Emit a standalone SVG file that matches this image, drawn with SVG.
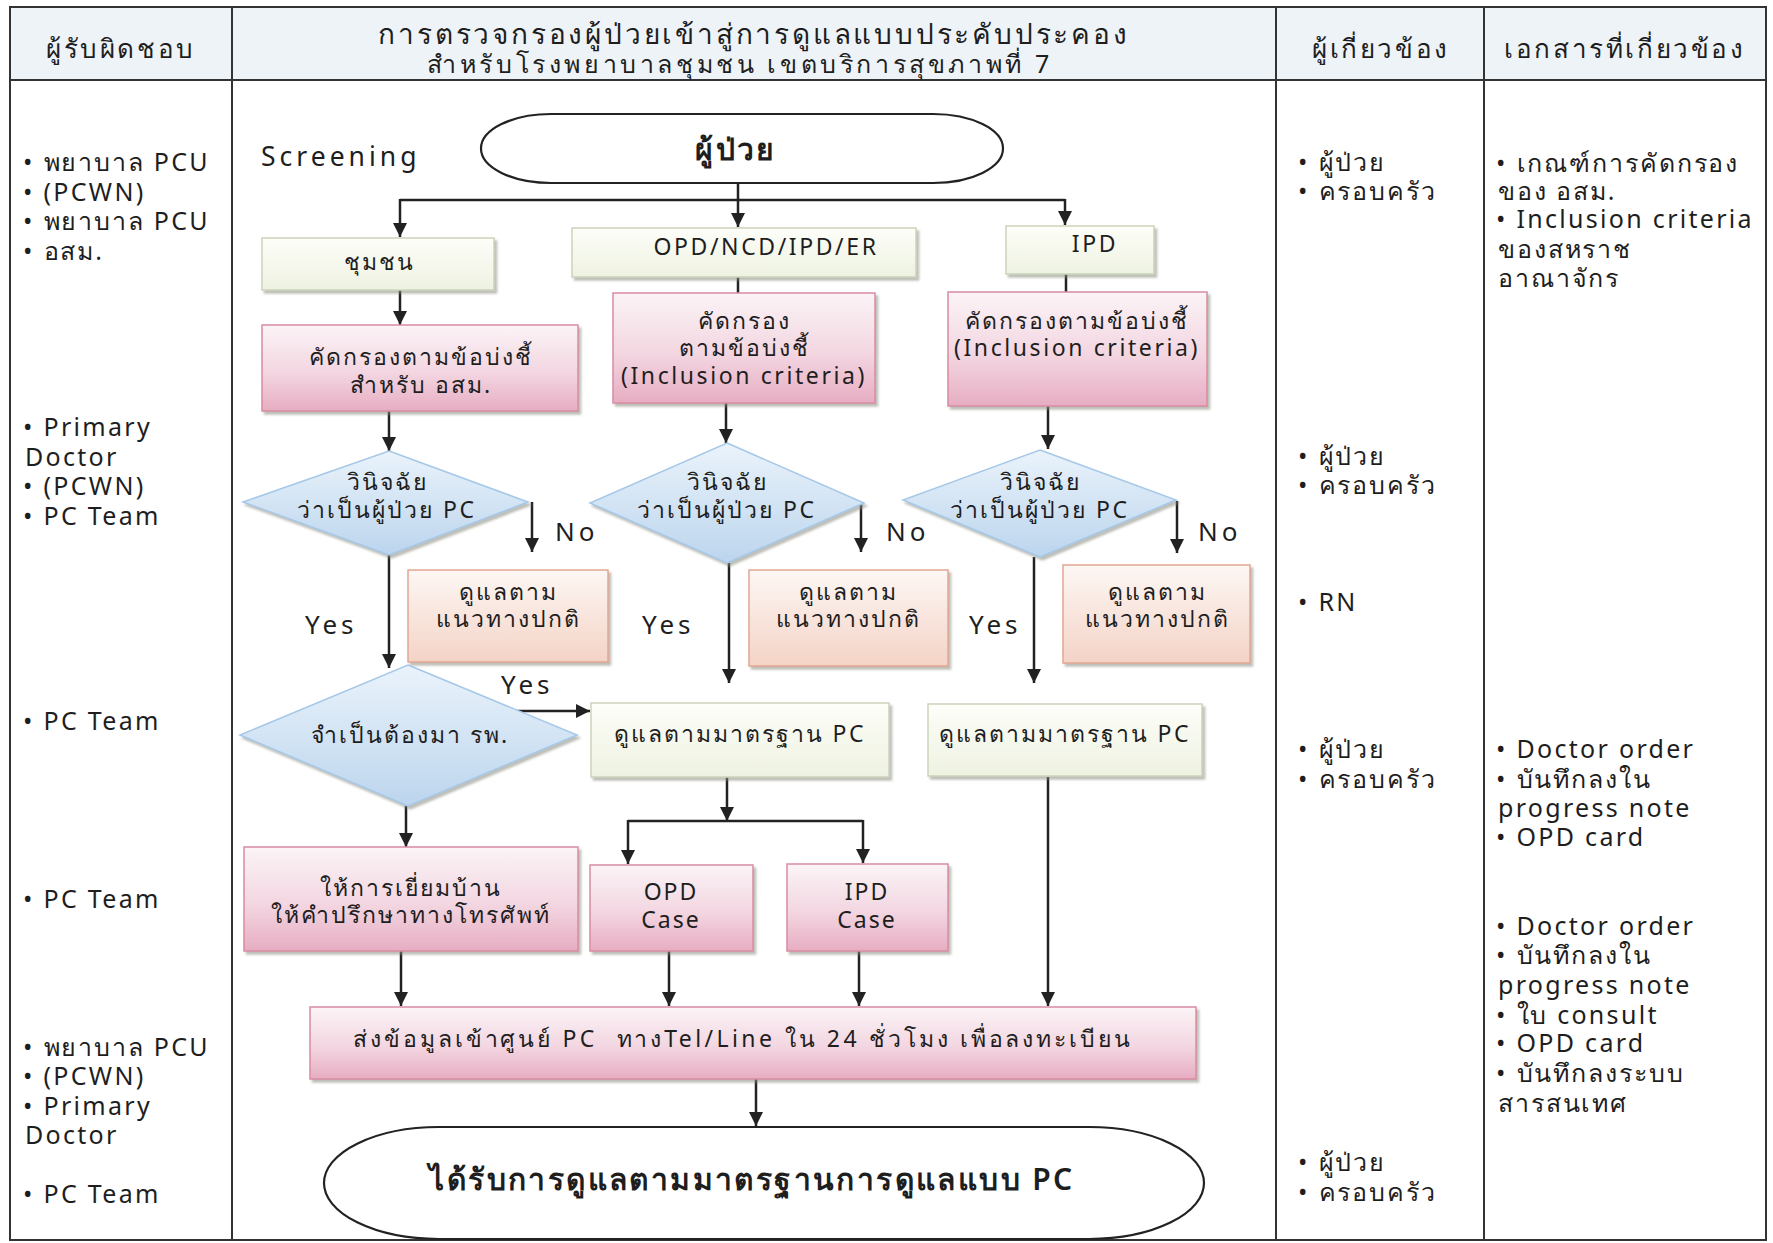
<svg xmlns="http://www.w3.org/2000/svg" width="1773" height="1243" viewBox="0 0 1773 1243">
<defs>
<style>
.t{font-family:"Noto Sans","DejaVu Sans",sans-serif;fill:#1e1e1e}
.s{font-size:25px;letter-spacing:1.9px}
.f{font-size:23px;letter-spacing:2px}
.L{letter-spacing:2.3px}
.fL{letter-spacing:2.6px}
.yn{font-size:26px;letter-spacing:4px}
.hd{font-size:26px;letter-spacing:2.6px}
.c{text-anchor:middle}
.big{font-size:30px;letter-spacing:2.4px;font-weight:600}
.line{stroke:#222;stroke-width:2.5;fill:none}
.arr{stroke:#222;stroke-width:2.5;fill:none;marker-end:url(#ah)}
.grid{stroke:#333;stroke-width:2;fill:none}
.gbox{fill:url(#gG);stroke:#cbd3bb;stroke-width:1.5;filter:url(#sh)}
.pbox{fill:url(#gP);stroke:#d88ca3;stroke-width:1.5;filter:url(#sh)}
.obox{fill:url(#gO);stroke:#e2a793;stroke-width:1.5;filter:url(#sh)}
.dia{fill:url(#gB);stroke:#a6c8e8;stroke-width:1.5;filter:url(#sh)}
.term{fill:#fff;stroke:#222;stroke-width:2.2}
</style>
<marker id="ah" markerUnits="userSpaceOnUse" markerWidth="16" markerHeight="16" refX="14" refY="7" orient="auto">
<path d="M0,0 L14,7 L0,14 z" fill="#222"/>
</marker>
<linearGradient id="gG" x1="0" y1="0" x2="0" y2="1"><stop offset="0" stop-color="#fdfef9"/><stop offset="1" stop-color="#eef2e1"/></linearGradient>
<linearGradient id="gP" x1="0" y1="0" x2="0" y2="1"><stop offset="0" stop-color="#fbf4f7"/><stop offset="0.55" stop-color="#f3d6e1"/><stop offset="1" stop-color="#e7adc2"/></linearGradient>
<linearGradient id="gO" x1="0" y1="0" x2="0" y2="1"><stop offset="0" stop-color="#fdf7f4"/><stop offset="1" stop-color="#f4d3c6"/></linearGradient>
<linearGradient id="gB" x1="0" y1="0" x2="0" y2="1"><stop offset="0" stop-color="#eaf3fb"/><stop offset="1" stop-color="#bcd5ed"/></linearGradient>
<filter id="sh" x="-5%" y="-5%" width="115%" height="120%"><feDropShadow dx="2.5" dy="3" stdDeviation="1" flood-color="#8a8a80" flood-opacity="0.55"/></filter>
</defs>
<rect width="1773" height="1243" fill="#fff"/>

<g id="table">
<rect x="10" y="7" width="1756" height="73" fill="#eef3f8"/>
<rect class="grid" x="10" y="7" width="1756" height="1233"/>
<line class="grid" x1="10" y1="80" x2="1766" y2="80"/>
<line class="grid" x1="232" y1="7" x2="232" y2="1240"/>
<line class="grid" x1="1276" y1="7" x2="1276" y2="1240"/>
<line class="grid" x1="1484" y1="7" x2="1484" y2="1240"/>
<text class="t c hd" x="121" y="58">ผู้รับผิดชอบ</text>
<text class="t c" x="754" y="44" style="font-size:28px;letter-spacing:2.8px">การตรวจกรองผู้ป่วยเข้าสู่การดูแลแบบประคับประคอง</text>
<text class="t c" x="740" y="73" style="font-size:25px;letter-spacing:3.6px">สำหรับโรงพยาบาลชุมชน เขตบริการสุขภาพที่ 7</text>
<text class="t c hd" x="1381" y="58">ผู้เกี่ยวข้อง</text>
<text class="t c hd" x="1625" y="58">เอกสารที่เกี่ยวข้อง</text>
</g>

<g id="col-responsible">
<text class="t s" x="23" y="171"><tspan class="L">• </tspan>พยาบาล<tspan class="L"> PCU</tspan></text>
<text class="t s L" x="23" y="201">• (PCWN)</text>
<text class="t s" x="23" y="230"><tspan class="L">• </tspan>พยาบาล<tspan class="L"> PCU</tspan></text>
<text class="t s" x="23" y="260"><tspan class="L">• </tspan>อสม.</text>
<text class="t s L" x="23" y="436">• Primary</text>
<text class="t s L" x="25" y="466">Doctor</text>
<text class="t s L" x="23" y="495">• (PCWN)</text>
<text class="t s L" x="23" y="525">• PC Team</text>
<text class="t s L" x="23" y="730">• PC Team</text>
<text class="t s L" x="23" y="908">• PC Team</text>
<text class="t s" x="23" y="1056"><tspan class="L">• </tspan>พยาบาล<tspan class="L"> PCU</tspan></text>
<text class="t s L" x="23" y="1085">• (PCWN)</text>
<text class="t s L" x="23" y="1115">• Primary</text>
<text class="t s L" x="25" y="1144">Doctor</text>
<text class="t s L" x="23" y="1203">• PC Team</text>
</g>

<g id="col-involved">
<text class="t s" x="1298" y="171"><tspan class="L">• </tspan>ผู้ป่วย</text>
<text class="t s" x="1298" y="200"><tspan class="L">• </tspan>ครอบครัว</text>
<text class="t s" x="1298" y="465"><tspan class="L">• </tspan>ผู้ป่วย</text>
<text class="t s" x="1298" y="494"><tspan class="L">• </tspan>ครอบครัว</text>
<text class="t s L" x="1298" y="611">• RN</text>
<text class="t s" x="1298" y="758"><tspan class="L">• </tspan>ผู้ป่วย</text>
<text class="t s" x="1298" y="788"><tspan class="L">• </tspan>ครอบครัว</text>
<text class="t s" x="1298" y="1171"><tspan class="L">• </tspan>ผู้ป่วย</text>
<text class="t s" x="1298" y="1201"><tspan class="L">• </tspan>ครอบครัว</text>
</g>

<g id="col-documents">
<text class="t s" x="1496" y="172"><tspan class="L">• </tspan>เกณฑ์การคัดกรอง</text>
<text class="t s" x="1498" y="200">ของ อสม.</text>
<text class="t s L" x="1496" y="228">• Inclusion criteria</text>
<text class="t s" x="1498" y="258">ของสหราช</text>
<text class="t s" x="1498" y="287">อาณาจักร</text>
<text class="t s L" x="1496" y="758">• Doctor order</text>
<text class="t s" x="1496" y="788"><tspan class="L">• </tspan>บันทึกลงใน</text>
<text class="t s L" x="1498" y="817">progress note</text>
<text class="t s L" x="1496" y="846">• OPD card</text>
<text class="t s L" x="1496" y="935">• Doctor order</text>
<text class="t s" x="1496" y="964"><tspan class="L">• </tspan>บันทึกลงใน</text>
<text class="t s L" x="1498" y="994">progress note</text>
<text class="t s" x="1496" y="1024"><tspan class="L">• </tspan>ใบ<tspan class="L"> consult</tspan></text>
<text class="t s L" x="1496" y="1052">• OPD card</text>
<text class="t s" x="1496" y="1082"><tspan class="L">• </tspan>บันทึกลงระบบ</text>
<text class="t s" x="1498" y="1112">สารสนเทศ</text>
</g>

<g id="connectors">
<line class="arr" x1="738" y1="183" x2="738" y2="227"/>
<polyline class="line" points="400,200 1065,200"/>
<line class="arr" x1="400" y1="199" x2="400" y2="237"/>
<line class="arr" x1="1065" y1="199" x2="1065" y2="225"/>
<line class="arr" x1="400" y1="290" x2="400" y2="325"/>
<line class="line" x1="738" y1="277" x2="738" y2="293"/>
<line class="line" x1="1066" y1="274" x2="1066" y2="292"/>
<line class="arr" x1="389" y1="411" x2="389" y2="451"/>
<line class="arr" x1="726" y1="403" x2="726" y2="443"/>
<line class="arr" x1="1048" y1="406" x2="1048" y2="449"/>
<line class="arr" x1="532" y1="502" x2="532" y2="552"/>
<line class="arr" x1="861" y1="504" x2="861" y2="552"/>
<line class="arr" x1="1177" y1="501" x2="1177" y2="553"/>
<line class="arr" x1="389" y1="555" x2="389" y2="668"/>
<line class="arr" x1="729" y1="563" x2="729" y2="683"/>
<line class="arr" x1="1034" y1="557" x2="1034" y2="683"/>
<line class="arr" x1="517" y1="711" x2="590" y2="711"/>
<line class="arr" x1="406" y1="806" x2="406" y2="847"/>
<line class="arr" x1="727" y1="777" x2="727" y2="821"/>
<polyline class="line" points="628,821 863,821"/>
<line class="arr" x1="628" y1="820" x2="628" y2="864"/>
<line class="arr" x1="863" y1="820" x2="863" y2="863"/>
<line class="arr" x1="401" y1="951" x2="401" y2="1006"/>
<line class="arr" x1="669" y1="951" x2="669" y2="1006"/>
<line class="arr" x1="859" y1="951" x2="859" y2="1006"/>
<line class="arr" x1="1048" y1="777" x2="1048" y2="1006"/>
<line class="arr" x1="756" y1="1079" x2="756" y2="1126"/>
<text class="t yn" x="555" y="541">No</text>
<text class="t yn" x="886" y="541">No</text>
<text class="t yn" x="1198" y="541">No</text>
<text class="t yn" x="305" y="634">Yes</text>
<text class="t yn" x="642" y="634">Yes</text>
<text class="t yn" x="969" y="634">Yes</text>
<text class="t yn" x="501" y="694">Yes</text>
</g>

<g id="label-screening"><text class="t" x="261" y="166" style="font-size:26.5px;letter-spacing:4px">Screening</text></g>

<g id="n-start">
<rect class="term" x="481" y="114" width="522" height="69" rx="70" ry="34.5"/>
<text class="t c big" x="736" y="160">ผู้ป่วย</text>
</g>

<g id="n-community">
<rect class="gbox" x="262" y="238" width="232" height="52"/>
<text class="t c f" x="379" y="270">ชุมชน</text>
</g>
<g id="n-opd">
<rect class="gbox" x="572" y="228" width="344" height="49"/>
<text class="t c f fL" x="766" y="255">OPD/NCD/IPD/ER</text>
</g>
<g id="n-ipd">
<rect class="gbox" x="1006" y="226" width="148" height="48"/>
<text class="t c f fL" x="1095" y="252">IPD</text>
</g>

<g id="n-screen1">
<rect class="pbox" x="262" y="325" width="316" height="86"/>
<text class="t c f" x="421" y="365">คัดกรองตามข้อบ่งชี้</text>
<text class="t c f" x="421" y="393">สำหรับ อสม.</text>
</g>
<g id="n-screen2">
<rect class="pbox" x="613" y="293" width="262" height="110"/>
<text class="t c f" x="744" y="329">คัดกรอง</text>
<text class="t c f" x="744" y="356">ตามข้อบ่งชี้</text>
<text class="t c f fL" x="744" y="384">(Inclusion criteria)</text>
</g>
<g id="n-screen3">
<rect class="pbox" x="948" y="292" width="259" height="114"/>
<text class="t c f" x="1077" y="329">คัดกรองตามข้อบ่งชี้</text>
<text class="t c f fL" x="1077" y="356">(Inclusion criteria)</text>
</g>

<g id="n-diag1">
<polygon class="dia" points="389,451 528,502 389,555 243,502"/>
<text class="t c f" x="387" y="490">วินิจฉัย</text>
<text class="t c f" x="387" y="518">ว่าเป็นผู้ป่วย<tspan class="fL"> PC</tspan></text>
</g>
<g id="n-diag2">
<polygon class="dia" points="727,443 864,503 727,563 590,503"/>
<text class="t c f" x="727" y="490">วินิจฉัย</text>
<text class="t c f" x="727" y="518">ว่าเป็นผู้ป่วย<tspan class="fL"> PC</tspan></text>
</g>
<g id="n-diag3">
<polygon class="dia" points="1040,450 1176,500 1040,557 903,500"/>
<text class="t c f" x="1040" y="490">วินิจฉัย</text>
<text class="t c f" x="1040" y="518">ว่าเป็นผู้ป่วย<tspan class="fL"> PC</tspan></text>
</g>

<g id="n-normal1">
<rect class="obox" x="408" y="570" width="200" height="92"/>
<text class="t c f" x="508" y="600">ดูแลตาม</text>
<text class="t c f" x="508" y="627">แนวทางปกติ</text>
</g>
<g id="n-normal2">
<rect class="obox" x="749" y="570" width="199" height="96"/>
<text class="t c f" x="848" y="600">ดูแลตาม</text>
<text class="t c f" x="848" y="627">แนวทางปกติ</text>
</g>
<g id="n-normal3">
<rect class="obox" x="1063" y="565" width="187" height="98"/>
<text class="t c f" x="1157" y="600">ดูแลตาม</text>
<text class="t c f" x="1157" y="627">แนวทางปกติ</text>
</g>

<g id="n-need-hosp">
<polygon class="dia" points="408,665 577,735 408,806 240,735"/>
<text class="t c f" x="410" y="743">จำเป็นต้องมา รพ.</text>
</g>

<g id="n-std1">
<rect class="gbox" x="591" y="703" width="298" height="74"/>
<text class="t c f" x="740" y="742">ดูแลตามมาตรฐาน<tspan class="fL"> PC</tspan></text>
</g>
<g id="n-std2">
<rect class="gbox" x="928" y="704" width="274" height="72"/>
<text class="t c f" x="1065" y="742">ดูแลตามมาตรฐาน<tspan class="fL"> PC</tspan></text>
</g>

<g id="n-homevisit">
<rect class="pbox" x="244" y="847" width="334" height="104"/>
<text class="t c f" x="411" y="896">ให้การเยี่ยมบ้าน</text>
<text class="t c f" x="411" y="923">ให้คำปรึกษาทางโทรศัพท์</text>
</g>
<g id="n-opdcase">
<rect class="pbox" x="590" y="865" width="163" height="86"/>
<text class="t c f" x="671" y="900">OPD</text>
<text class="t c f" x="671" y="928">Case</text>
</g>
<g id="n-ipdcase">
<rect class="pbox" x="787" y="864" width="161" height="87"/>
<text class="t c f" x="867" y="900">IPD</text>
<text class="t c f" x="867" y="928">Case</text>
</g>

<g id="n-send">
<rect class="pbox" x="310" y="1007" width="886" height="72"/>
<text class="t c f" x="743" y="1047" style="letter-spacing:2.9px" xml:space="preserve">ส่งข้อมูลเข้าศูนย์<tspan style="letter-spacing:3.4px"> PC  </tspan>ทาง<tspan style="letter-spacing:3.4px">Tel/Line </tspan>ใน<tspan style="letter-spacing:3.4px"> 24 </tspan>ชั่วโมง เพื่อลงทะเบียน</text>
</g>

<g id="n-end">
<rect class="term" x="324" y="1127" width="880" height="112" rx="115" ry="56"/>
<text class="t c big" x="752" y="1190">ได้รับการดูแลตามมาตรฐานการดูแลแบบ PC</text>
</g>
</svg>
